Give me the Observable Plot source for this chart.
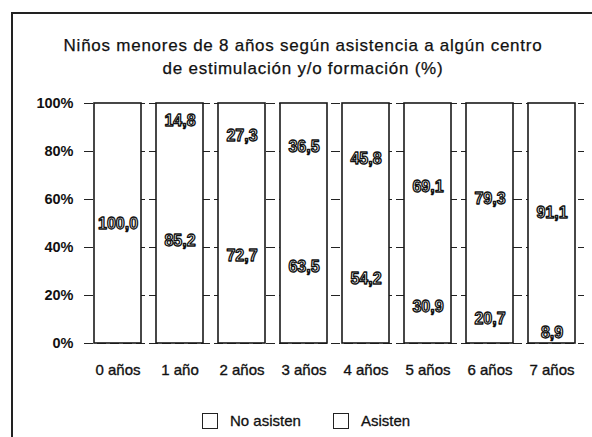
<!DOCTYPE html>
<html>
<head>
<meta charset="utf-8">
<script src="https://cdn.jsdelivr.net/npm/d3@7"></script>
<script src="https://cdn.jsdelivr.net/npm/@observablehq/plot@0.6"></script>
<style>
  html, body { margin: 0; padding: 0; background: #fff; }
  body { width: 592px; height: 437px; position: relative; overflow: hidden; font-family: "Liberation Sans", Arial, sans-serif; color: #111; }
  #frame { position: absolute; left: 11px; top: 12px; width: 620px; height: 460px; border-left: 2px solid #222; border-top: 2px solid #222; }
  #title { position: absolute; left: 0; top: 34px; width: 606px; text-align: center; font-size: 17px; letter-spacing: 0.75px; line-height: 23px; -webkit-text-stroke: 0.25px #111; }
  #chart { position: absolute; left: 0; top: 85px; }
  #legend { position: absolute; left: 202px; top: 412px; display: flex; gap: 32px; font-size: 15px; line-height: 18px; -webkit-text-stroke: 0.3px #111; }
  .item { display: flex; align-items: center; gap: 12px; }
  .sw { width: 16px; height: 16px; border: 1.4px solid #222; background: #fff; box-sizing: border-box; }
  #chart svg [aria-label="x-axis tick label"] text { stroke: #111; stroke-width: 0.35px; }
</style>
</head>
<body>
<div id="frame"></div>
<div id="title">Niños menores de 8 años según asistencia a algún centro<br>de estimulación y/o formación (%)</div>
<div id="chart"></div>
<div id="legend"></div>
<script>
const ages = ["0 años", "1 año", "2 años", "3 años", "4 años", "5 años", "6 años", "7 años"];
const series = ["No asisten", "Asisten"];
const noAsisten = [100.0, 85.2, 72.7, 63.5, 54.2, 30.9, 20.7, 8.9];
const asisten = [0.0, 14.8, 27.3, 36.5, 45.8, 69.1, 79.3, 91.1];
const yTicks = [0, 20, 40, 60, 80, 100];

const data = [];
ages.forEach((a, i) => {
  data.push({age: a, series: series[0], value: noAsisten[i]});
  data.push({age: a, series: series[1], value: asisten[i]});
});
const fmt = v => v.toFixed(1).replace(".", ",");

const plot = Plot.plot({
  width: 592,
  height: 303,
  marginTop: 18,
  marginBottom: 45,
  marginLeft: 84,
  marginRight: 8,
  style: {fontFamily: '"Liberation Sans", Arial, sans-serif', fontSize: "15px", color: "#111", background: "transparent"},
  x: {domain: ages, paddingInner: 0.245, paddingOuter: 0.1225, label: null, tickSize: 0, tickPadding: 21},
  y: {domain: [0, 100], ticks: yTicks, tickFormat: d => d + "%", label: null, tickSize: 0, tickPadding: 11},
  marks: [
    Plot.ruleY(yTicks, {stroke: "#222", strokeWidth: 1.2, strokeDasharray: "9,4"}),
    Plot.barY(data, Plot.stackY({x: "age", y: "value", z: "series", fill: "white", order: null})),
    Plot.barY(data, Plot.groupX({y: "sum"}, {x: "age", y: "value", fill: "none", stroke: "#1a1a1a", strokeWidth: 1.6})),
    Plot.axisY({ticks: yTicks, tickFormat: d => d + "%", tickSize: 0, tickPadding: 11, fontWeight: "bold", fontSize: 14.5, label: null}),
    Plot.axisX({tickSize: 0, tickPadding: 21, label: null}),
    Plot.text(data, Plot.stackY({
      filter: d => d.value > 0,
      x: "age", y: "value", z: "series", order: null,
      text: d => fmt(d.value),
      fill: "white", stroke: "#111", strokeWidth: 1.3, paintOrder: "normal",
      fontSize: 16, fontWeight: "bold"
    }))
  ]
});
document.getElementById("chart").appendChild(plot);

const legend = document.getElementById("legend");
series.forEach(s => {
  const it = document.createElement("div");
  it.className = "item";
  it.innerHTML = '<span class="sw"></span><span>' + s + '</span>';
  legend.appendChild(it);
});
</script>
</body>
</html>
